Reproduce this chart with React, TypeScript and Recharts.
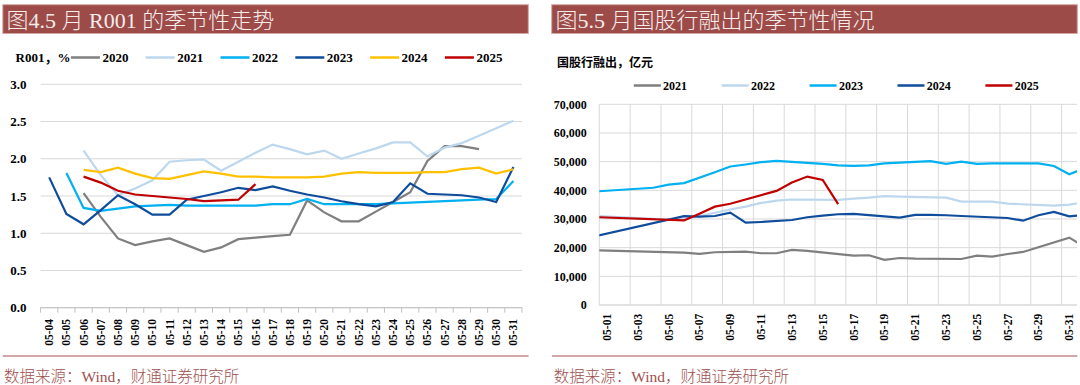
import React from 'react';
import { LineChart, Line, XAxis, YAxis, CartesianGrid } from 'recharts';

// ---------- Left panel: R001 seasonality ----------
const R_CATS = ['05-04', '05-05', '05-06', '05-07', '05-08', '05-09', '05-10', '05-11', '05-12', '05-13', '05-14', '05-15', '05-16', '05-17', '05-18', '05-19', '05-20', '05-21', '05-22', '05-23', '05-24', '05-25', '05-26', '05-27', '05-28', '05-29', '05-30', '05-31'];
const R_Y_TICKS = [0, 0.5, 1, 1.5, 2, 2.5, 3];
const R2020 = [null, null, 1.54, 1.22, 0.93, 0.84, 0.89, 0.93, 0.84, 0.75, 0.81, 0.92, 0.94, 0.96, 0.98, 1.44, 1.28, 1.16, 1.16, 1.29, 1.42, 1.55, 1.97, 2.17, 2.17, 2.13, null, null];
const R2021 = [null, null, 2.11, 1.78, 1.51, 1.6, 1.71, 1.96, 1.98, 1.99, 1.84, 1.96, 2.08, 2.19, 2.13, 2.06, 2.11, 2.0, 2.07, 2.14, 2.22, 2.22, 2.03, 2.15, 2.21, 2.31, 2.41, 2.51];
const R2022 = [null, 1.81, 1.34, 1.3, 1.33, 1.36, 1.37, 1.38, 1.37, 1.37, 1.37, 1.37, 1.37, 1.39, 1.39, 1.46, 1.39, 1.39, 1.39, 1.39, 1.4, 1.41, 1.42, 1.43, 1.44, 1.45, 1.46, 1.7];
const R2023 = [1.75, 1.26, 1.12, 1.31, 1.51, 1.39, 1.25, 1.25, 1.45, 1.5, 1.55, 1.61, 1.58, 1.63, 1.57, 1.52, 1.48, 1.43, 1.39, 1.36, 1.42, 1.67, 1.53, 1.52, 1.51, 1.48, 1.42, 1.89];
const R2024 = [null, null, 1.85, 1.82, 1.88, 1.8, 1.74, 1.73, 1.78, 1.83, 1.8, 1.76, 1.76, 1.75, 1.75, 1.75, 1.76, 1.8, 1.82, 1.81, 1.81, 1.81, 1.82, 1.82, 1.86, 1.88, 1.8, 1.86];
const R2025 = [null, null, 1.76, 1.68, 1.57, 1.52, 1.5, 1.48, 1.46, 1.43, 1.44, 1.45, 1.66, null, null, null, null, null, null, null, null, null, null, null, null, null, null, null];

// ---------- Right panel: 国股行融出 ----------
const F_DAYS = ['04-30', '05-01', '05-02', '05-03', '05-04', '05-05', '05-06', '05-07', '05-08', '05-09', '05-10', '05-11', '05-12', '05-13', '05-14', '05-15', '05-16', '05-17', '05-18', '05-19', '05-20', '05-21', '05-22', '05-23', '05-24', '05-25', '05-26', '05-27', '05-28', '05-29', '05-30', '05-31', '06-01'];
const F_LABEL_TICKS = [1, 3, 5, 7, 9, 11, 13, 15, 17, 19, 21, 23, 25, 27, 29, 31];
const F_GRID = [0.5, 2.5, 4.5, 6.5, 8.5, 10.5, 12.5, 14.5, 16.5, 18.5, 20.5, 22.5, 24.5, 26.5, 28.5, 30.5];
const F_DOMAIN = [0.5, 31.5];
const F_Y_TICKS = [0, 10000, 20000, 30000, 40000, 50000, 60000, 70000];
const F2021 = [19100, null, null, null, null, null, 18300, 17800, 18400, null, 18600, 18050, 18050, 19200, 18850, null, null, 17200, 17350, 15750, 16400, 16150, null, null, 16050, 17200, 16850, 17800, 18500, null, null, 23500, 20300];
const F2022 = [31100, null, null, null, null, 29800, 30000, 31000, null, 33300, 34300, 35600, 36400, 36800, null, null, 36650, 37100, 37450, 38000, 37800, null, null, 37450, 36050, 36050, 36050, 35350, null, null, 34650, 35000, 35800];
const F2023 = [39500, null, null, null, 40900, 42000, 42500, null, 46300, 48300, 49000, 49800, 50300, null, null, 49200, 48700, 48500, 48700, 49400, null, null, 50200, 49200, 50000, 49200, 49400, null, null, 49400, 48500, 45600, 47700];
const F2024 = [23700, null, null, null, null, null, 31000, 30800, 31050, 32200, 28700, 28950, null, 29650, 30600, 31150, 31650, 31750, null, null, 30500, 31400, 31400, 31300, 31050, null, null, 30350, 29400, 31300, 32450, 30900, 31500];
const F2025 = [30700, null, null, null, null, null, 29500, 31800, 34300, 35300, null, null, 39800, 42700, 44800, 43600, 35200, null, null, null, null, null, null, null, null, null, null, null, null, null, null, null, null];

const GRAY = '#7F7F7F';
const LIGHT = '#BDD7EE';
const CYAN = '#00B0F0';
const NAVY = '#0F4C9C';
const YELLOW = '#FFC000';
const RED = '#C00000';

const R_SERIES = [
  { key: 'y2020', name: '2020', color: GRAY, values: R2020 },
  { key: 'y2021', name: '2021', color: LIGHT, values: R2021 },
  { key: 'y2022', name: '2022', color: CYAN, values: R2022 },
  { key: 'y2023', name: '2023', color: NAVY, values: R2023 },
  { key: 'y2024', name: '2024', color: YELLOW, values: R2024 },
  { key: 'y2025', name: '2025', color: RED, values: R2025 },
];
const F_SERIES = [
  { key: 'y2021', name: '2021', color: GRAY, values: F2021 },
  { key: 'y2022', name: '2022', color: LIGHT, values: F2022 },
  { key: 'y2023', name: '2023', color: CYAN, values: F2023 },
  { key: 'y2024', name: '2024', color: NAVY, values: F2024 },
  { key: 'y2025', name: '2025', color: RED, values: F2025 },
];

const rData = R_CATS.map((c, i) => {
  const row: any = { x: i, cat: c };
  R_SERIES.forEach((s) => (row[s.key] = s.values[i]));
  return row;
});
const fData = F_DAYS.map((d, i) => {
  const row: any = { x: i, day: d };
  F_SERIES.forEach((s) => (row[s.key] = s.values[i]));
  return row;
});

const SERIF = "'Liberation Serif', 'Times New Roman', 'Noto Sans CJK SC', serif";
const BAR = '#9C4B48';
const BROWN = '#A0504D';
const GRID = '#D9D9D9';
const AXIS = '#BFBFBF';

// left chart geometry
const L_W = 540;
const L_H = 385;
const L_MARGIN = { top: 84.3, right: 18, bottom: 37.3, left: 0.6 };
const L_YW = 40;
const L_PLOT_W = L_W - L_MARGIN.left - L_MARGIN.right - L_YW;

const LeftXTick = (props: any) => {
  const { x, y, payload } = props;
  const v = payload.value as number;
  const bw = L_PLOT_W / R_CATS.length;
  return (
    <g>
      <line x1={x - bw / 2} x2={x - bw / 2} y1={y} y2={y + 5} stroke={AXIS} strokeWidth={1} />
      {v === R_CATS.length - 1 && (
        <line x1={x + bw / 2} x2={x + bw / 2} y1={y} y2={y + 5} stroke={AXIS} strokeWidth={1} />
      )}
      <text
        transform={`translate(${x},${y + 11.3}) rotate(-90)`}
        textAnchor="end"
        dominantBaseline="central"
        fontFamily={SERIF}
        fontWeight="bold"
        fontSize={11.5}
        fill="#000"
      >
        {R_CATS[v]}
      </text>
    </g>
  );
};

const RightXTick = (props: any) => {
  const { x, y, payload } = props;
  const v = payload.value as number;
  return (
    <text
      transform={`translate(${x},${y + 8.8}) rotate(-90)`}
      textAnchor="end"
      dominantBaseline="central"
      fontFamily={SERIF}
      fontWeight="bold"
      fontSize={11.5}
      fill="#000"
    >
      {F_DAYS[v]}
    </text>
  );
};

const Overlay = () => {
  const rLegendX0 = 70.9;
  const rLegendStep = 74.8;
  const fLegendX0 = 633.8;
  const fLegendStep = 87.9;
  return (
    <svg width={1080} height={385} style={{ position: 'absolute', left: 0, top: 0 }}>
      {/* title bars */}
      <rect x={2.8} y={4.7} width={525.5} height={28.8} fill={BAR} stroke="#D4A9A7" strokeWidth={1} />
      <rect x={551.7} y={4.7} width={525.6} height={28.8} fill={BAR} stroke="#D4A9A7" strokeWidth={1} />
      <text x={6.5} y={20.5} dominantBaseline="central" fontFamily={SERIF} fontSize={22} fontWeight={300} fill="#F5ECEC">
        图4.5 月 R001 的季节性走势
      </text>
      <text x={555.5} y={20.5} dominantBaseline="central" fontFamily={SERIF} fontSize={22} fontWeight={300} fill="#F5ECEC">
        图5.5 月国股行融出的季节性情况
      </text>

      {/* left legend */}
      <text x={15.5} y={57.5} dominantBaseline="central" fontFamily={SERIF} fontWeight="bold" fontSize={13} fill="#000">
        R001，%
      </text>
      {R_SERIES.map((s, i) => {
        const x0 = rLegendX0 + i * rLegendStep;
        return (
          <g key={s.key}>
            <line x1={x0} x2={x0 + 29} y1={57.5} y2={57.5} stroke={s.color} strokeWidth={2.5} />
            <text x={x0 + 31.5} y={57.5} dominantBaseline="central" fontFamily={SERIF} fontWeight="bold" fontSize={13} fill="#000">
              {s.name}
            </text>
          </g>
        );
      })}

      {/* right subtitle + legend */}
      <text x={557} y={63} dominantBaseline="central" fontFamily={SERIF} fontWeight="bold" fontSize={12} fill="#000">
        国股行融出，亿元
      </text>
      {F_SERIES.map((s, i) => {
        const x0 = fLegendX0 + i * fLegendStep;
        return (
          <g key={s.key}>
            <line x1={x0} x2={x0 + 27} y1={85.5} y2={85.5} stroke={s.color} strokeWidth={2.5} />
            <text x={x0 + 29.3} y={85.5} dominantBaseline="central" fontFamily={SERIF} fontWeight="bold" fontSize={12} fill="#000">
              {s.name}
            </text>
          </g>
        );
      })}

      {/* footers */}
      <line x1={2.8} x2={528.6} y1={356} y2={356} stroke={BROWN} strokeWidth={1} />
      <line x1={552} x2={1077.3} y1={356} y2={356} stroke={BROWN} strokeWidth={1} />
      <text x={4} y={376} dominantBaseline="central" fontFamily={SERIF} fontSize={15.5} fontWeight={300} fill={BROWN}>
        数据来源：Wind，财通证券研究所
      </text>
      <text x={553.8} y={376} dominantBaseline="central" fontFamily={SERIF} fontSize={15.5} fontWeight={300} fill={BROWN}>
        数据来源：Wind，财通证券研究所
      </text>
    </svg>
  );
};

export default function App() {
  return (
    <div style={{ position: 'absolute', left: 0, top: 0, width: 1080, height: 385, background: '#fff', overflow: 'hidden' }}>
      <Overlay />
      <div style={{ position: 'absolute', left: 0, top: 0 }}>
        <LineChart width={L_W} height={L_H} data={rData} margin={L_MARGIN}>
          <CartesianGrid vertical={false} stroke={GRID} strokeWidth={1} />
          <XAxis
            dataKey="x"
            type="number"
            domain={[-0.5, R_CATS.length - 0.5]}
            allowDataOverflow
            ticks={R_CATS.map((_, i) => i)}
            interval={0}
            height={40}
            tickSize={0}
            tickMargin={0}
            tickLine={false}
            axisLine={{ stroke: AXIS, strokeWidth: 1 }}
            tick={<LeftXTick />}
          />
          <YAxis
            type="number"
            domain={[0, 3]}
            ticks={R_Y_TICKS}
            interval={0}
            width={L_YW}
            tickSize={0}
            tickMargin={14}
            axisLine={false}
            tickLine={false}
            tickFormatter={(v: number) => v.toFixed(1)}
            tick={{ fontFamily: SERIF, fontWeight: 'bold', fontSize: 13, fill: '#000' }}
          />
          {R_SERIES.map((s) => (
            <Line
              key={s.key}
              dataKey={s.key}
              name={s.name}
              stroke={s.color}
              strokeWidth={2.2}
              dot={false}
              activeDot={false}
              connectNulls
              isAnimationActive={false}
            />
          ))}
        </LineChart>
      </div>
      <div style={{ position: 'absolute', left: 540, top: 0 }}>
        <LineChart width={540} height={385} data={fData} margin={{ top: 104.3, right: 3, bottom: 40, left: 0 }}>
          <CartesianGrid
            stroke={GRID}
            strokeWidth={1}
            verticalCoordinatesGenerator={({ offset }: any) =>
              F_GRID.map((g) => offset.left + ((g - F_DOMAIN[0]) / (F_DOMAIN[1] - F_DOMAIN[0])) * offset.width)
            }
          />
          <XAxis
            dataKey="x"
            type="number"
            domain={F_DOMAIN}
            allowDataOverflow
            ticks={F_LABEL_TICKS}
            interval={0}
            height={40}
            tickSize={0}
            tickMargin={0}
            tickLine={false}
            axisLine={{ stroke: GRID, strokeWidth: 1 }}
            tick={<RightXTick />}
          />
          <YAxis
            type="number"
            domain={[0, 70000]}
            ticks={F_Y_TICKS}
            interval={0}
            width={59.3}
            tickSize={0}
            tickMargin={12.6}
            axisLine={false}
            tickLine={false}
            tickFormatter={(v: number) => v.toLocaleString('en-US')}
            tick={{ fontFamily: SERIF, fontWeight: 'bold', fontSize: 12, fill: '#000' }}
          />
          {F_SERIES.map((s) => (
            <Line
              key={s.key}
              dataKey={s.key}
              name={s.name}
              stroke={s.color}
              strokeWidth={2.2}
              dot={false}
              activeDot={false}
              connectNulls
              isAnimationActive={false}
            />
          ))}
        </LineChart>
      </div>
    </div>
  );
}
